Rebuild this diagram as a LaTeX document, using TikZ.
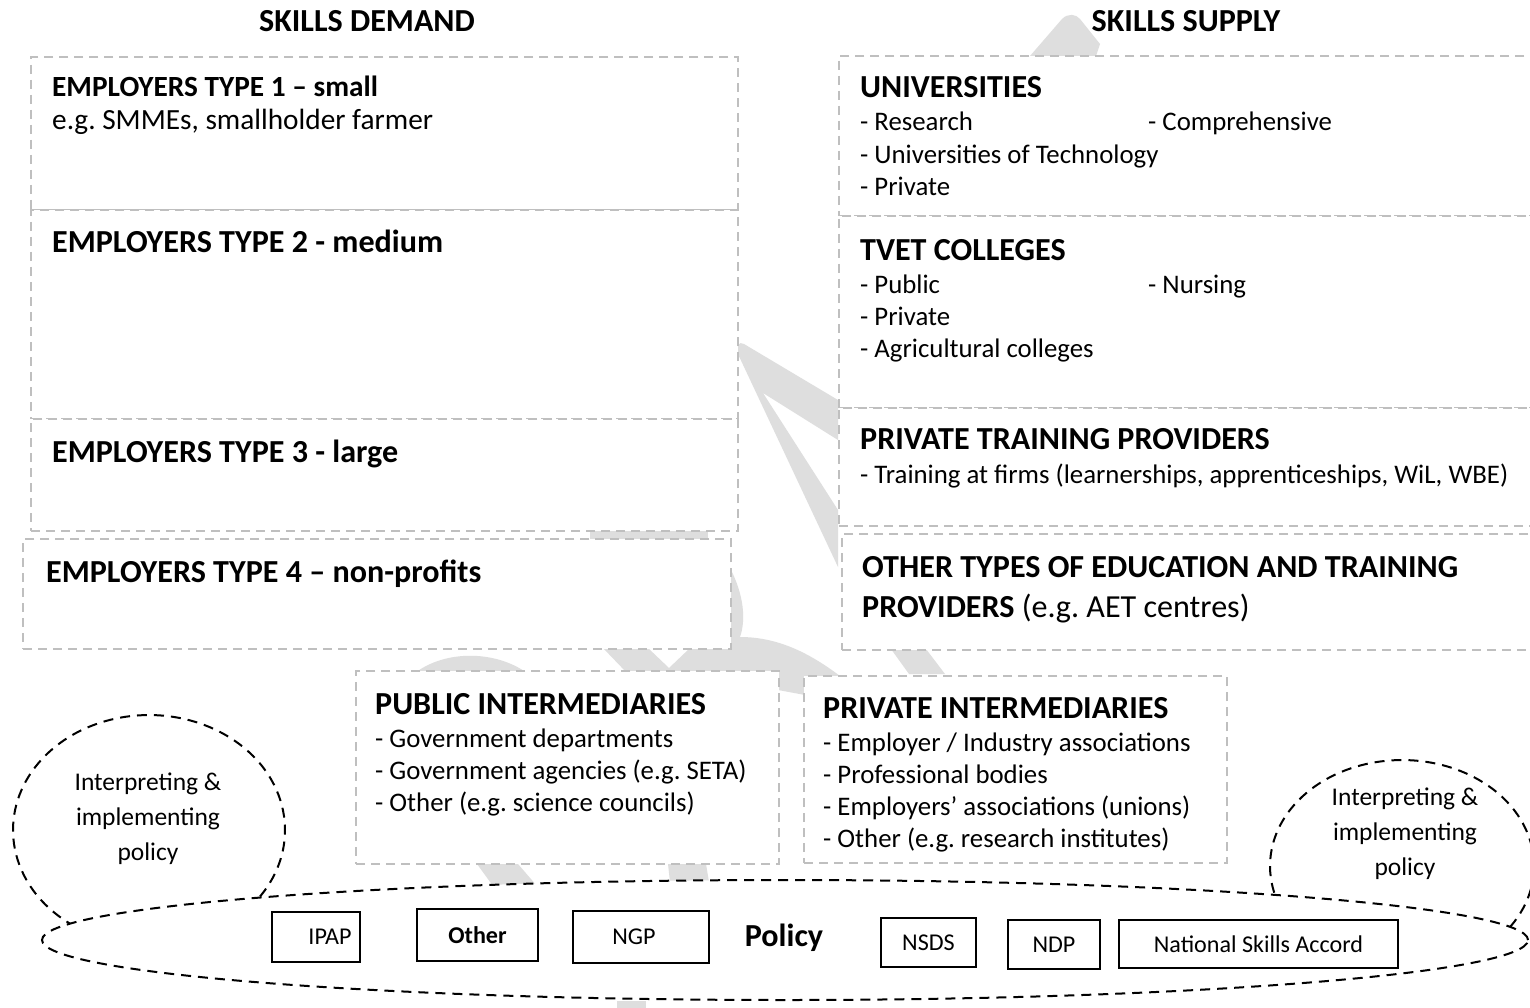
\documentclass[tikz,border=0pt]{standalone}
\usepackage{fontspec}
\setmainfont{Carlito}
\usetikzlibrary{shapes.geometric}
\definecolor{gdash}{HTML}{BFBFBF}
\definecolor{wmark}{HTML}{DEDEDE}
\begin{document}
\frenchspacing
\begin{tikzpicture}[x=1pt,y=-1pt,
  gbox/.style={draw=gdash, line width=2pt, dash pattern=on 9pt off 6pt, fill=white, anchor=north west, inner sep=0pt},
  hd/.style={anchor=base west, inner sep=0pt, font=\fontsize{32.1}{38}\selectfont\bfseries},
  hdsm/.style={anchor=base west, inner sep=0pt, font=\fontsize{29.3}{35}\selectfont\bfseries},
  bdsm/.style={anchor=base west, inner sep=0pt, font=\fontsize{29.3}{35}\selectfont},
  bd/.style={anchor=base west, inner sep=0pt, font=\fontsize{26.8}{32}\selectfont},
  bdash/.style={draw=black, line width=2pt, dash pattern=on 10pt off 7pt},
  pbox/.style={draw=black, line width=2pt, inner sep=2pt, font=\fontsize{24.1}{29}\selectfont},
  bub/.style={font=\fontsize{25.5}{35}\selectfont, align=center, inner sep=0pt},
  wm/.style={fill=wmark}]
\useasboundingbox (0,0) rectangle (1530,1008);
\clip (0,0) rectangle (1530,1008);
\fill[white] (0,0) rectangle (1530,1008);
% watermark pieces
\fill[wm] (1030,56) -- (1062,19) .. controls (1068,13) and (1076,14) .. (1080,19) -- (1100,44) -- (1096,56) -- cycle;
\fill[wm] (838,400) -- (744,344) .. controls (739,341) and (736,346) .. (737,352) -- (838,567) -- (838,510) -- (763,393) -- (838,440) -- cycle;
\fill[wm] (590,529) -- (708,529) -- (708,539) -- (590,539) -- cycle;
\fill[wm] (603,648) -- (648,648) -- (669,668) -- (690,648) -- (742,648) -- (742,673) -- (627,673) -- cycle;
\fill[wm] (730,568) .. controls (744,595) and (746,620) .. (740,637) .. controls (780,637) and (812,655) .. (840,676) -- (805,676) -- (805,695) -- (778,690) -- (730,690) -- cycle;
\fill[wm] (415,673) .. controls (445,650) and (495,650) .. (527,673) -- cycle;
\fill[wm] (891,649) -- (926,649) -- (945,674) -- (909,674) -- cycle;
\fill[wm] (477,864) -- (518,864) -- (537,886) -- (493,886) -- cycle;
\fill[wm] (668,864) -- (706,864) -- (709,882) -- (670,882) -- cycle;
\fill[wm] (617,1001) -- (646,1001) -- (646,1008) -- (617,1008) -- cycle;
% titles
\node[hd, anchor=base] (dem) at (367,32) {SKILLS DEMAND};
\node[hd, anchor=base] (sup) at (1186,32) {SKILLS SUPPLY};
% demand boxes
\node[gbox, minimum width=707pt, minimum height=153pt] (d1) at (30,56) {};
\node[gbox, minimum width=707pt, minimum height=209pt] (d2) at (30,209) {};
\node[gbox, minimum width=707pt, minimum height=112pt] (d3) at (30,418) {};
\node[gbox, minimum width=708pt, minimum height=110pt] (d4) at (22,538) {};
\node[hdsm] (t1) at (52,97) {EMPLOYERS TYPE 1 – small};
\node[bdsm] (t1b) at (52,130) {e.g. SMMEs, smallholder farmer};
\node[hd] (t2) at (52,252) {EMPLOYERS TYPE 2 - medium};
\node[hd] (t3) at (52,462) {EMPLOYERS TYPE 3 - large};
\node[hd] (t4) at (46,582) {EMPLOYERS TYPE 4 – non-profits};
% supply boxes
\node[gbox, minimum width=720pt, minimum height=160pt] (s1) at (838,55) {};
\node[gbox, minimum width=720pt, minimum height=192pt] (s2) at (838,215) {};
\node[gbox, minimum width=720pt, minimum height=118pt] (s3) at (838,407) {};
\node[gbox, minimum width=720pt, minimum height=116pt] (s4) at (841,533) {};
\node[hd] (u) at (860,98) {UNIVERSITIES};
\node[bd] (u1) at (860,130.5) {- Research};
\node[bd] (u2) at (1148,130.5) {- Comprehensive};
\node[bd] (u3) at (860,163.5) {- Universities of Technology};
\node[bd] (u4) at (860,195.5) {- Private};
\node[hd] (tv) at (860,260) {TVET COLLEGES};
\node[bd] (tv1) at (860,293.5) {- Public};
\node[bd] (tv2) at (1148,293.5) {- Nursing};
\node[bd] (tv3) at (860,325.5) {- Private};
\node[bd] (tv4) at (860,357.5) {- Agricultural colleges};
\node[hd] (pt) at (860,449) {PRIVATE TRAINING PROVIDERS};
\node[bd] (pt1) at (860,483.5) {- Training at firms (learnerships, apprenticeships, WiL, WBE)};
\node[hd] (ot1) at (862,577) {OTHER TYPES OF EDUCATION AND TRAINING};
\node[hd] (ot2) at (862,617) {PROVIDERS {\mdseries (e.g. AET centres)}};
% intermediaries
\node[gbox, minimum width=423pt, minimum height=193pt] (pub) at (355,670) {};
\node[gbox, minimum width=423pt, minimum height=187pt] (priv) at (803,675) {};
\node[hd] (pu) at (375,714) {PUBLIC INTERMEDIARIES};
\node[bd] (pu1) at (375,747.5) {- Government departments};
\node[bd] (pu2) at (375,779.5) {- Government agencies (e.g. SETA)};
\node[bd] (pu3) at (375,811.5) {- Other (e.g. science councils)};
\node[hd] (pr) at (823,718) {PRIVATE INTERMEDIARIES};
\node[bd] (pr1) at (823,751.5) {- Employer / Industry associations};
\node[bd] (pr2) at (823,783.5) {- Professional bodies};
\node[bd] (pr3) at (823,815.5) {- Employers’ associations (unions)};
\node[bd] (pr4) at (823,847.5) {- Other (e.g. research institutes)};
% bubbles
\coordinate (lb1) at (260,896.5);
\draw[bdash] (lb1) arc[start angle=-35.3, end angle=234.5, x radius=136pt, y radius=115pt];
\coordinate (rb1) at (1510,927);
\draw[bdash] (rb1) arc[start angle=-35.1, end angle=195.9, x radius=132pt, y radius=106pt];
\node[bub] (lbt) at (148,819) {Interpreting \&\\implementing\\policy};
\node[bub] (rbt) at (1405,834) {Interpreting \&\\implementing\\policy};
% policy ellipse
\node[bdash, ellipse, fill=white, minimum width=1486pt, minimum height=120pt, inner sep=0pt] (polel) at (785,940) {};
\node[pbox, minimum width=88pt, minimum height=50pt] (ipap) at (316,937) {\hspace*{28pt}IPAP};
\node[pbox, minimum width=121pt, minimum height=52pt] (oth) at (477.5,935) {\bfseries Other};
\node[pbox, minimum width=136pt, minimum height=52pt] (ngp) at (641,937) {NGP\hspace*{14pt}};
\node[font=\fontsize{32.1}{38}\selectfont\bfseries, inner sep=0pt] (pol) at (784,938) {Policy};
\node[pbox, minimum width=95pt, minimum height=49pt] (nsds) at (928.5,942.5) {NSDS};
\node[pbox, minimum width=92pt, minimum height=49pt] (ndp) at (1054,944.5) {NDP};
\node[pbox, minimum width=279pt, minimum height=48pt] (nsa) at (1258.5,944) {National Skills Accord};
\end{tikzpicture}
\end{document}
